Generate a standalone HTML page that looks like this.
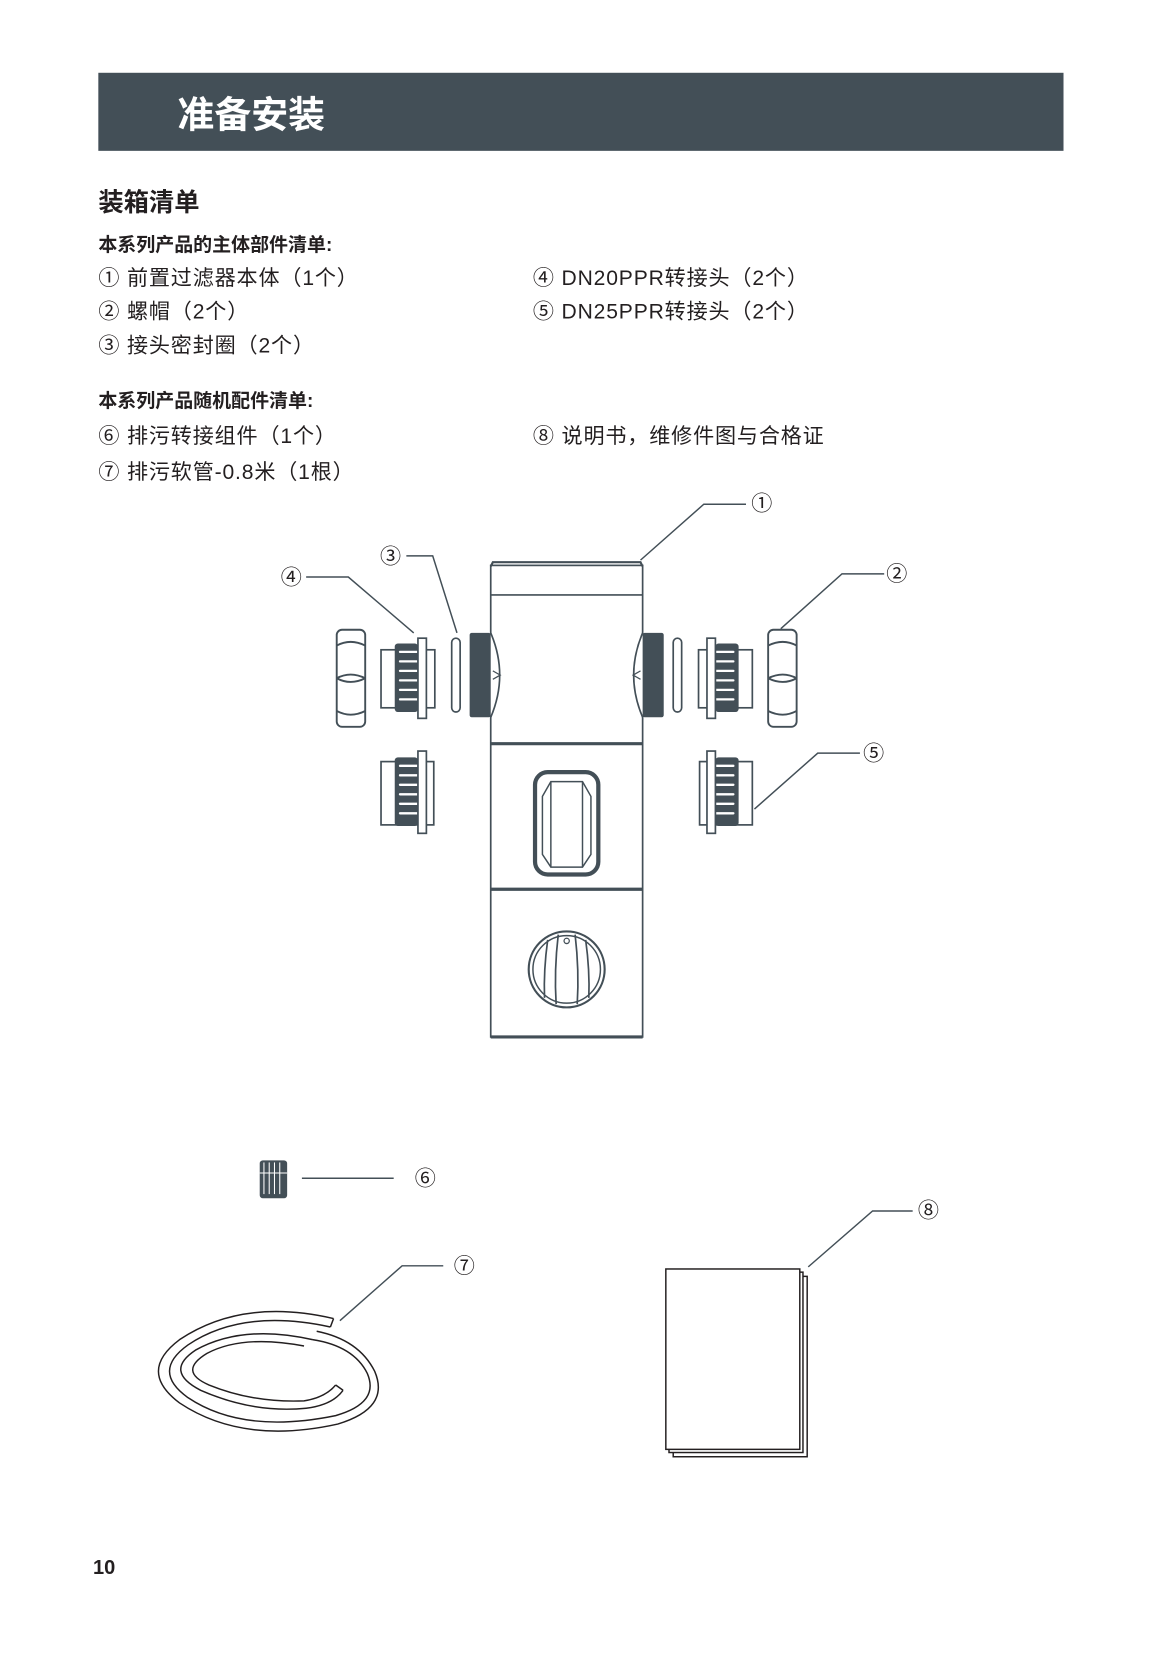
<!DOCTYPE html>
<html><head><meta charset="utf-8"><style>
html,body{margin:0;padding:0;background:#fff;}
svg{display:block;}
text{font-family:"Liberation Sans","Noto Sans CJK SC",sans-serif;fill:#231f20;}
</style></head><body>
<svg width="1165" height="1654" viewBox="0 0 1104 1568" xmlns="http://www.w3.org/2000/svg">
<defs>
<g id="thr">
 <rect x="0" y="0" width="22" height="65" rx="3" fill="#434f57"/>
 <g stroke="#fff" stroke-width="2.2" stroke-linecap="round">
  <line x1="5" y1="8" x2="22" y2="8"/><line x1="5" y1="17" x2="22" y2="17"/>
  <line x1="5" y1="26" x2="22" y2="26"/><line x1="5" y1="35" x2="22" y2="35"/>
  <line x1="5" y1="44" x2="22" y2="44"/><line x1="5" y1="53" x2="22" y2="53"/>
 </g>
</g>
<g id="adapt">
 <rect x="361" y="616" width="51" height="55" fill="#fff" stroke="#434f57" stroke-width="1.6"/>
 <use href="#thr" x="374" y="610"/>
 <rect x="396" y="605" width="8" height="76" fill="#fff" stroke="#434f57" stroke-width="1.6"/>
</g>
<g id="adapt2">
 <rect x="361" y="722" width="50" height="60" fill="#fff" stroke="#434f57" stroke-width="1.6"/>
 <use href="#thr" x="374" y="718"/>
 <rect x="396" y="712" width="8" height="78" fill="#fff" stroke="#434f57" stroke-width="1.6"/>
</g>
<g id="nut" fill="#fff" stroke="#434f57" stroke-width="1.8">
 <rect x="319" y="597" width="27" height="92" rx="5"/>
 <path d="M319 612 Q332 605 346 612 M319 643 Q332 636 346 643 M319 643 Q332 650 346 643 M319 674 Q332 681 346 674" fill="none"/>
</g>
<g id="side">
 <rect x="445" y="600" width="20" height="80" rx="2" fill="#434f57"/>
 <path d="M465 600 Q482 640 465 680" fill="#fff" stroke="#434f57" stroke-width="1.6"/>
 <path d="M467 636 L474 640 L467 644" fill="none" stroke="#434f57" stroke-width="1.2"/>
 <rect x="428" y="605" width="8" height="70" rx="4" fill="#fff" stroke="#434f57" stroke-width="1.6"/>
</g>
</defs>

<rect x="93" y="69" width="915" height="74" fill="#434f57"/>
<text x="168" y="121" font-size="35" font-weight="bold" style="fill:#fff">准备安装</text>

<text x="93" y="200" font-size="24" font-weight="bold">装箱清单</text>
<text x="93" y="238" font-size="18" font-weight="bold">本系列产品的主体部件清单:</text>
<g font-size="20" letter-spacing="0.8">
<text x="93" y="270">① 前置过滤器本体（1个）</text>
<text x="93" y="302">② 螺帽（2个）</text>
<text x="93" y="334">③ 接头密封圈（2个）</text>
<text x="505" y="270">④ DN20PPR转接头（2个）</text>
<text x="505" y="302">⑤ DN25PPR转接头（2个）</text>
</g>
<text x="93" y="386" font-size="18" font-weight="bold">本系列产品随机配件清单:</text>
<g font-size="20" letter-spacing="0.8">
<text x="93" y="420">⑥ 排污转接组件（1个）</text>
<text x="93" y="454">⑦ 排污软管-0.8米（1根）</text>
<text x="505" y="420">⑧ 说明书，维修件图与合格证</text>
</g>

<!-- main body -->
<g stroke="#434f57" fill="none">
 <path d="M465 537 L467 533 L607 533 L609 537" stroke-width="2"/>
 <rect x="465" y="536" width="144" height="447" stroke-width="1.6"/>
 <line x1="465" y1="564" x2="609" y2="564" stroke-width="1.6"/>
 <line x1="465" y1="705" x2="609" y2="705" stroke-width="3"/>
 <line x1="465" y1="843" x2="609" y2="843" stroke-width="3"/>
 <line x1="465" y1="983" x2="609" y2="983" stroke-width="3"/>
 <rect x="507" y="732" width="60" height="97" rx="12" stroke-width="4"/>
 <path d="M514 755 L522 741 L552 741 L560 755 L560 810 L552 822 L522 822 L514 810 Z" stroke-width="1.4"/>
 <line x1="522" y1="741" x2="522" y2="822" stroke-width="1.4"/>
 <line x1="552" y1="741" x2="552" y2="822" stroke-width="1.4"/>
 <circle cx="537" cy="919" r="36" stroke-width="2"/>
 <circle cx="537" cy="919" r="32" stroke-width="1.4"/>
 <path d="M529 886 Q525 920 527 952 M545 886 Q549 920 547 952 M519 891 Q515 920 516 946 M555 891 Q559 920 558 946" stroke-width="1.6"/>
 <circle cx="537" cy="892" r="2.5" stroke-width="1.2"/>
</g>
<use href="#side"/>
<g transform="translate(1074,0) scale(-1,1)"><use href="#side"/></g>
<use href="#nut"/>
<g transform="translate(1074,0) scale(-1,1)"><use href="#nut"/></g>
<use href="#adapt"/>
<g transform="translate(1074,0) scale(-1,1)"><use href="#adapt"/></g>
<use href="#adapt2"/>
<g transform="translate(1074,0) scale(-1,1)"><use href="#adapt2"/></g>

<!-- leaders -->
<g stroke="#434f57" stroke-width="1.4" fill="none">
 <polyline points="707,478 667,478 607,531"/>
 <polyline points="385,527 410,527 433,600"/>
 <polyline points="290,547 330,547 392,600"/>
 <polyline points="838,544 798,544 740,596"/>
 <polyline points="815,714 775,714 715,767"/>
 <line x1="286" y1="1117" x2="373" y2="1117"/>
 <polyline points="420,1200 381,1200 322,1252"/>
 <polyline points="865,1148 827,1148 766,1201"/>
</g>
<g font-size="20">
<text x="712" y="484">①</text>
<text x="360" y="534">③</text>
<text x="266" y="554">④</text>
<text x="840" y="551">②</text>
<text x="818" y="721">⑤</text>
<text x="393" y="1124">⑥</text>
<text x="430" y="1207">⑦</text>
<text x="870" y="1154">⑧</text>
</g>

<!-- item 6 -->
<rect x="246" y="1100" width="26" height="36" rx="3" fill="#434f57"/>
<g stroke="#fff" stroke-width="1"><line x1="250" y1="1102" x2="250" y2="1132"/><line x1="255" y1="1102" x2="255" y2="1132"/><line x1="260" y1="1102" x2="260" y2="1132"/><line x1="265" y1="1102" x2="265" y2="1132"/><line x1="246" y1="1112" x2="272" y2="1112"/></g>

<!-- item 7 coil -->
<g stroke="#231f20" stroke-width="1.4" fill="none">
 <path d="M316 1250 Q230 1230 170 1270 Q130 1300 170 1330 Q230 1370 320 1350 Q370 1335 355 1300 Q340 1270 300 1262"/>
 <path d="M313 1258 Q230 1240 178 1275 Q143 1300 178 1325 Q230 1360 318 1342 Q360 1330 348 1302 Q335 1276 296 1270"/>
 <path d="M296 1270 Q230 1255 185 1280 Q155 1300 190 1318 Q240 1340 290 1335 Q315 1332 325 1318"/>
 <path d="M288 1276 Q230 1265 196 1283 Q168 1300 198 1313 Q240 1330 288 1328 Q308 1325 318 1313"/>
 <line x1="316" y1="1250" x2="313" y2="1258"/>
 <line x1="325" y1="1318" x2="318" y2="1313"/>
</g>

<!-- item 8 booklet -->
<g stroke="#231f20" stroke-width="1.4" fill="#fff">
 <rect x="638" y="1210" width="127" height="171"/>
 <rect x="634" y="1206" width="127" height="171"/>
 <rect x="631" y="1203" width="127" height="171"/>
</g>

<text x="88" y="1492" font-size="19" font-weight="bold">10</text>
</svg>
</body></html>
